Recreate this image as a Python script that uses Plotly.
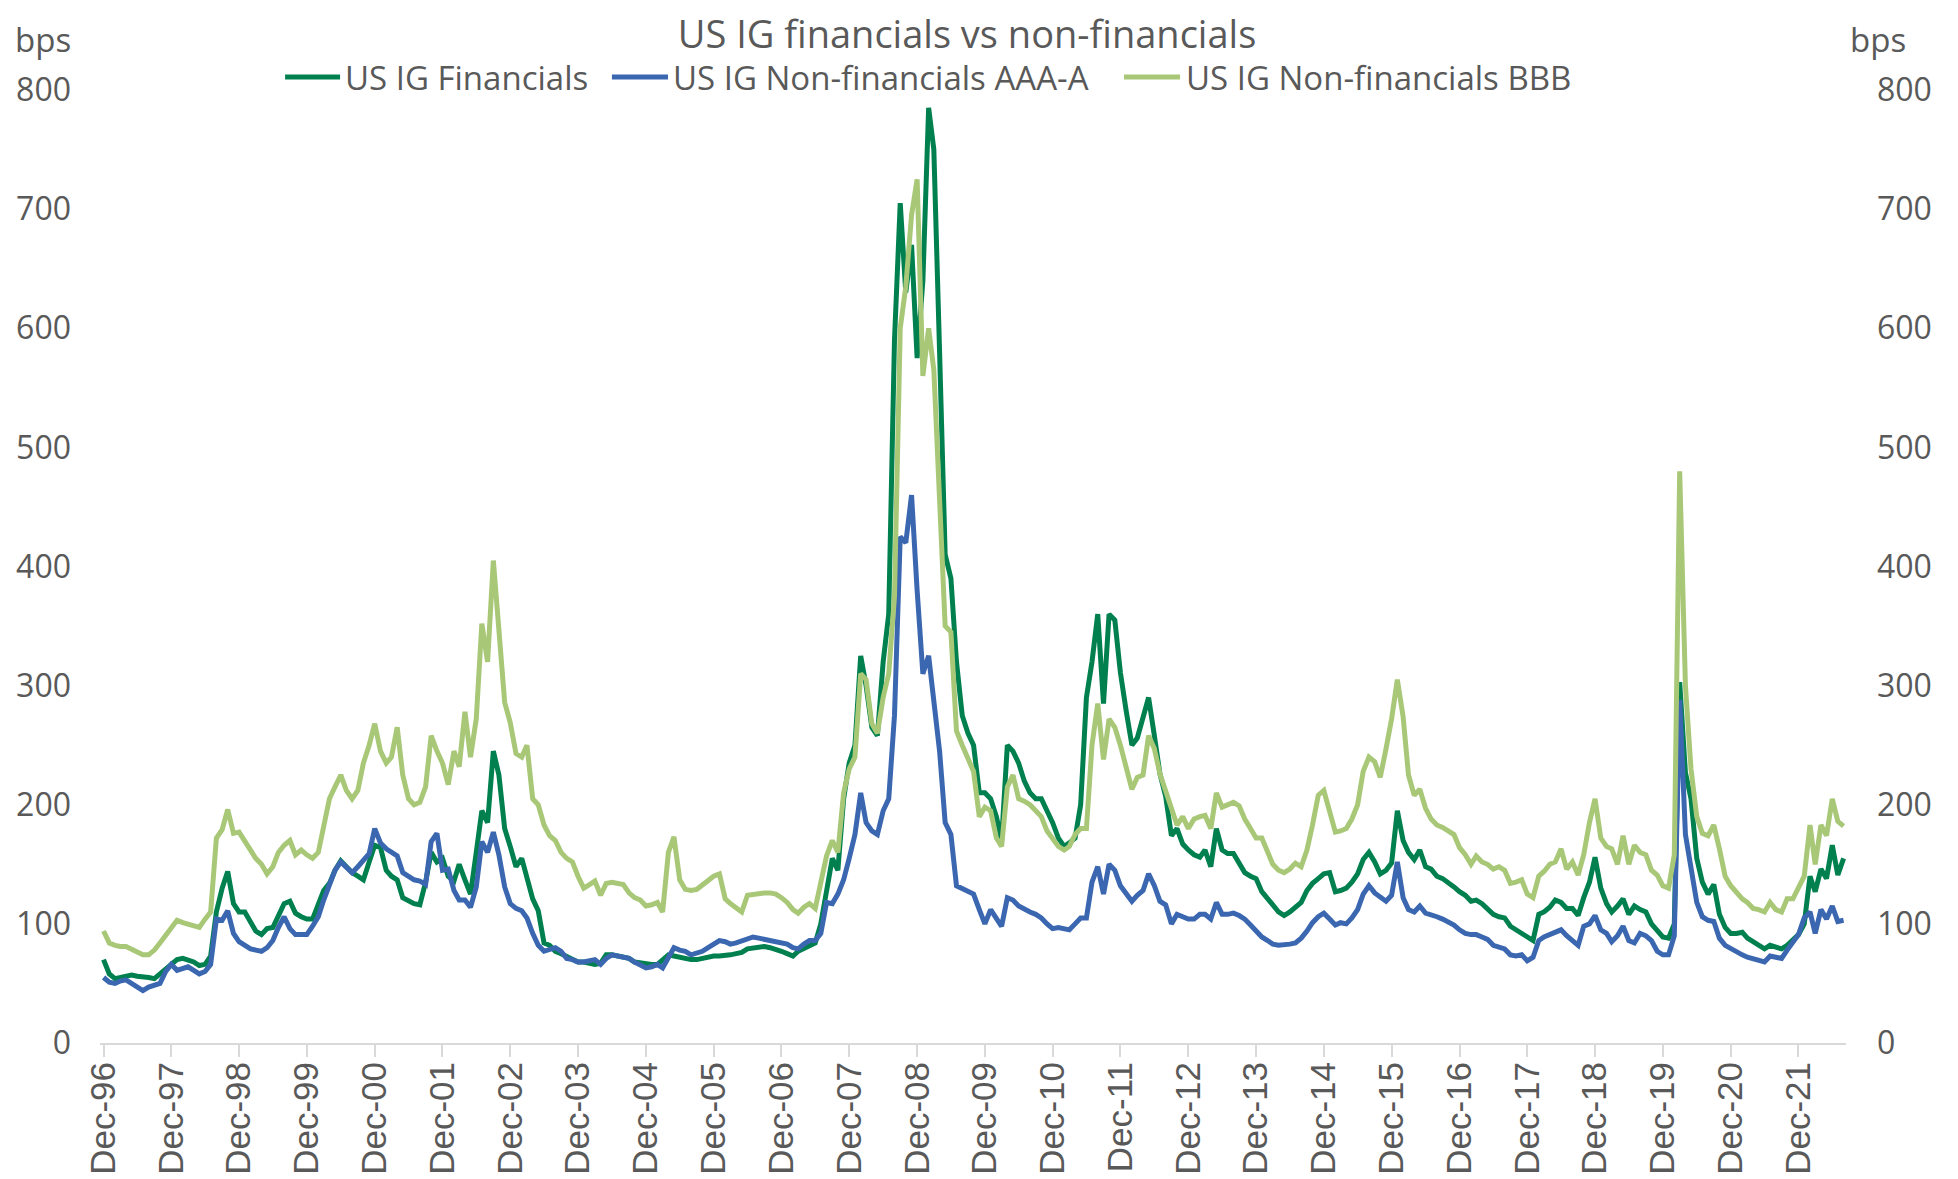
# -*- coding: utf-8 -*-
"""
US IG financials vs non-financials - spreads in bps
"""

# --------------------------------------------------------------- #
#### Importing Libraries ####
# --------------------------------------------------------------- #
import pandas as pd
import plotly.graph_objects as go

# --------------------------------------------------------------- #
#### Data (monthly, Dec-96 .. Aug-22) ####
# --------------------------------------------------------------- #
months = pd.date_range("1996-12-01", periods=309, freq="MS")

financials = (
    [70]
    + [58, 54, 55, 57, 57, 56, 56, 55, 54, 58, 63, 67]            # 1997
    + [70, 71, 70, 68, 65, 66, 73, 110, 130, 144, 117, 110]       # 1998
    + [110, 101, 94, 91, 96, 97, 108, 117, 119, 109, 106, 104]    # 1999
    + [104, 117, 128, 134, 145, 153, 148, 143, 140, 137, 152, 166]
    + [164, 145, 140, 137, 122, 119, 117, 116, 135, 160, 152, 155]
    + [140, 136, 150, 137, 125, 160, 195, 185, 245, 225, 180, 165]
    + [148, 155, 140, 121, 111, 84, 82, 77, 75, 73, 71, 68]
    + [68, 67, 66, 67, 74, 74, 73, 72, 71, 68, 67, 66]
    + [66, 66, 70, 74, 73, 72, 70, 70, 70, 71, 73, 73]
    + [73, 73, 74, 75, 76, 79, 80, 81, 81, 80, 79, 77]
    + [75, 73, 77, 79, 82, 84, 100, 130, 155, 145, 205, 235]
    + [250, 325, 300, 265, 258, 320, 360, 590, 705, 630, 670, 575]
    + [640, 785, 750, 580, 410, 390, 320, 275, 260, 250, 210, 210]
    + [205, 190, 170, 250, 245, 235, 220, 210, 205, 205, 195, 185]
    + [172, 165, 168, 172, 200, 290, 320, 360, 285, 360, 355, 311]
    + [279, 250, 256, 275, 290, 258, 226, 207, 174, 180, 167, 162]
    + [158, 156, 162, 148, 180, 162, 159, 159, 150, 143, 140, 138]
    + [127, 122, 116, 110, 107, 110, 114, 118, 128, 134, 138, 142]
    + [143, 127, 128, 130, 135, 142, 154, 160, 152, 142, 145, 151]
    + [195, 170, 160, 154, 162, 148, 146, 140, 138, 135, 131, 127]
    + [124, 119, 120, 117, 113, 108, 106, 105, 98, 95, 92, 88]
    + [86, 108, 110, 114, 120, 118, 113, 113, 107, 122, 135, 156]
    + [130, 117, 110, 115, 121, 108, 115, 112, 110, 100, 94, 89]
    + [88, 100, 303, 227, 205, 155, 135, 125, 133, 108, 97, 92]
    + [92, 93, 88, 85, 82, 79, 82, 80, 79, 82, 86, 91]
    + [100, 140, 127, 146, 138, 166, 141, 155]                    # 2022
)

aaa_a = (
    [55]
    + [51, 50, 52, 53, 50, 48, 44, 47, 48, 50, 60, 66]
    + [61, 63, 64, 61, 58, 60, 66, 104, 103, 111, 92, 85]
    + [82, 79, 78, 77, 80, 86, 97, 106, 96, 91, 91, 91]
    + [98, 106, 120, 133, 145, 152, 148, 143, 148, 154, 159, 180]
    + [168, 163, 160, 157, 143, 140, 137, 136, 133, 169, 176, 145]
    + [146, 128, 120, 120, 114, 131, 169, 160, 177, 158, 131, 117]
    + [113, 111, 105, 92, 82, 77, 78, 80, 77, 71, 70, 68]
    + [68, 69, 70, 66, 71, 74, 73, 73, 71, 68, 66, 63]
    + [64, 66, 63, 72, 80, 78, 77, 74, 75, 77, 80, 83]
    + [86, 85, 83, 84, 86, 87, 89, 88, 87, 86, 85, 84]
    + [83, 80, 79, 83, 86, 86, 92, 118, 117, 125, 137, 155]
    + [175, 210, 185, 178, 175, 195, 205, 275, 425, 420, 460, 380]
    + [310, 325, 290, 245, 185, 175, 132, 130, 128, 125, 112, 100]
    + [112, 105, 98, 122, 120, 115, 112, 110, 108, 105, 100, 96]
    + [97, 96, 95, 100, 105, 105, 135, 148, 125, 150, 145, 132]
    + [125, 119, 124, 128, 142, 132, 119, 116, 100, 108, 106, 104]
    + [104, 108, 108, 104, 118, 108, 108, 109, 107, 104, 99, 94]
    + [89, 86, 83, 82, 82, 83, 84, 88, 94, 101, 106, 109]
    + [104, 99, 101, 100, 105, 112, 125, 132, 126, 122, 119, 124]
    + [152, 122, 112, 110, 115, 109, 107, 106, 104, 102, 99, 95]
    + [92, 91, 91, 89, 87, 82, 80, 79, 74, 73, 74, 69]
    + [72, 86, 89, 91, 94, 95, 90, 86, 82, 98, 100, 107]
    + [95, 92, 85, 90, 98, 86, 84, 92, 90, 86, 77, 74]
    + [74, 90, 288, 175, 144, 118, 106, 103, 102, 88, 82, 79]
    + [77, 74, 72, 71, 69, 68, 73, 72, 71, 78, 84, 91]
    + [105, 110, 92, 112, 104, 115, 102, 103]
)

bbb = (
    [94]
    + [84, 82, 81, 81, 79, 77, 74, 74, 78, 84, 91, 97]
    + [103, 101, 100, 98, 97, 104, 110, 172, 179, 196, 176, 177]
    + [170, 163, 155, 150, 142, 148, 160, 166, 170, 158, 162, 158]
    + [155, 160, 180, 205, 215, 225, 212, 205, 212, 235, 250, 268]
    + [245, 235, 240, 265, 225, 205, 200, 202, 215, 258, 245, 235]
    + [217, 245, 232, 278, 240, 272, 352, 320, 405, 340, 286, 269]
    + [243, 240, 250, 205, 200, 183, 174, 170, 160, 155, 152, 140]
    + [130, 133, 136, 124, 134, 135, 134, 133, 126, 122, 120, 115]
    + [116, 118, 110, 160, 173, 137, 129, 128, 129, 133, 137, 140]
    + [142, 121, 117, 113, 110, 124, 125, 126, 126, 126, 125, 122]
    + [118, 112, 109, 114, 117, 113, 135, 157, 170, 160, 210, 230]
    + [240, 310, 305, 268, 260, 290, 310, 375, 600, 635, 695, 725]
    + [560, 600, 565, 455, 350, 345, 262, 250, 240, 228, 190, 198]
    + [195, 172, 165, 215, 225, 205, 203, 200, 195, 190, 178, 172]
    + [165, 162, 165, 175, 180, 180, 250, 285, 238, 272, 265, 250]
    + [232, 213, 223, 225, 258, 247, 226, 213, 197, 183, 190, 180]
    + [188, 190, 191, 180, 210, 198, 200, 202, 199, 188, 180, 172]
    + [172, 160, 150, 145, 143, 146, 151, 148, 162, 183, 208, 212]
    + [195, 177, 178, 180, 188, 200, 228, 240, 236, 223, 247, 272]
    + [305, 274, 225, 208, 213, 197, 188, 183, 181, 178, 175, 164]
    + [158, 150, 157, 152, 150, 146, 148, 145, 134, 135, 137, 125]
    + [122, 140, 144, 150, 152, 163, 146, 152, 141, 158, 185, 205]
    + [172, 165, 163, 150, 174, 150, 166, 160, 158, 145, 141, 132]
    + [130, 158, 480, 300, 230, 190, 176, 174, 183, 163, 140, 132]
    + [127, 121, 118, 113, 112, 110, 118, 112, 110, 121, 121, 130]
    + [140, 183, 150, 183, 174, 205, 186, 182]
)

series_names = ["US IG Financials", "US IG Non-financials AAA-A", "US IG Non-financials BBB"]
series_colors = ["#00804F", "#3B67B1", "#A8C878"]

# --------------------------------------------------------------- #
#### Figure ####
# --------------------------------------------------------------- #
GREY = "#595959"
AXIS = "#D9D9D9"

# the page body adds an 8px offset, so the figure is 8px smaller
W, H = 1950, 1171

fig = go.Figure()
for name, vals, col in zip(series_names, [financials, aaa_a, bbb], series_colors):
    fig.add_trace(go.Scatter(x=months, y=vals, name=name, mode="lines",
                             line=dict(color=col, width=5)))

# invisible copy so the right-hand axis is drawn
fig.add_trace(go.Scatter(x=months, y=bbb, yaxis="y2", mode="lines",
                         line=dict(width=0), opacity=0, hoverinfo="skip",
                         showlegend=False))

fig.update_layout(
    width=W, height=H,
    margin=dict(l=92, r=112, t=82, b=136, autoexpand=False),
    paper_bgcolor="white", plot_bgcolor="white",
    showlegend=False,
    font=dict(family="Open Sans", color=GREY),
    title=dict(text="US IG financials vs non-financials", x=0.4918, y=0.9769,
               xanchor="center", yanchor="middle",
               font=dict(family="Open Sans", size=38, color=GREY)),
    xaxis=dict(type="date", range=["1996-11-12", "2022-08-14"],
               tick0="1996-12-01", dtick="M12", tickformat="%b-%y",
               tickangle=-90, ticks="outside", ticklen=12, tickwidth=2,
               tickcolor=AXIS, showline=True, linecolor=AXIS, linewidth=2,
               showgrid=False, zeroline=False, automargin=False,
               ticklabelstandoff=-9,
               tickfont=dict(family="Liberation Sans", size=35, color=GREY)),
    yaxis=dict(range=[0, 800], dtick=100, showgrid=False, zeroline=False,
               showline=False, ticks="", ticklabelstandoff=28, automargin=False,
               tickfont=dict(family="Open Sans", size=32, color=GREY)),
    yaxis2=dict(range=[0, 800], dtick=100, overlaying="y", side="right",
                showgrid=False, zeroline=False, showline=False, ticks="",
                ticklabelstandoff=30, automargin=False,
                tickfont=dict(family="Open Sans", size=32, color=GREY)),
)

# axis unit labels
for xpos in [-0.0326, 1.0183]:
    fig.add_annotation(text="bps", xref="paper", yref="paper", x=xpos, y=1.0535,
                       xanchor="center", yanchor="middle", showarrow=False,
                       font=dict(family="Open Sans", size=33, color=GREY))

# legend drawn by hand so the line keys match the original length
legend_y = 1.0136
line_x = [(0.1060, 0.1375), (0.2932, 0.3253), (0.5865, 0.6186)]
text_x = [0.1392, 0.3270, 0.6208]
for name, col, (x0, x1), tx in zip(series_names, series_colors, line_x, text_x):
    fig.add_shape(type="line", xref="paper", yref="paper", x0=x0, x1=x1,
                  y0=legend_y, y1=legend_y, line=dict(color=col, width=5))
    fig.add_annotation(text=name, xref="paper", yref="paper", x=tx, y=legend_y,
                       xanchor="left", yanchor="middle", showarrow=False,
                       font=dict(family="Open Sans", size=33, color=GREY))

fig.write_html("out.html")
